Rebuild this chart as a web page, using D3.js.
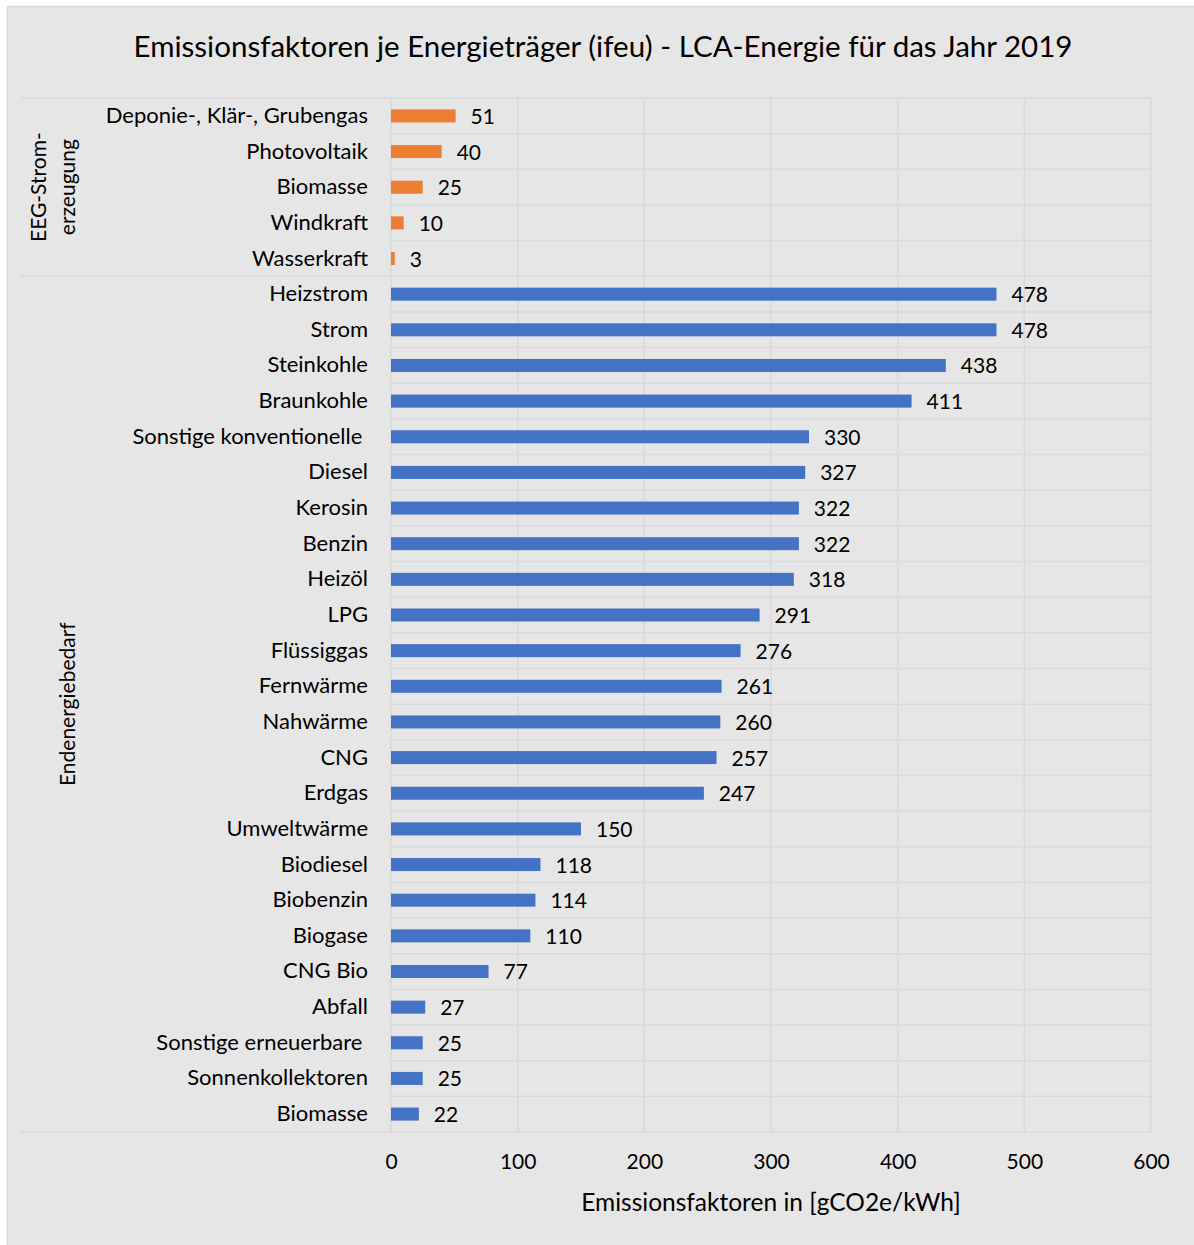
<!DOCTYPE html>
<html>
<head>
<meta charset="utf-8">
<script src="https://cdn.jsdelivr.net/npm/d3@7"></script>
<style>
    body { margin: 0; background: #fff; }
    text { font-family: Lato, "Open Sans", sans-serif; fill: #000; white-space: pre; }
</style>
</head>
<body>
<script>

    var groupNames = [["EEG-Strom-", "erzeugung"], ["Endenergiebedarf"]];
    var eegLabels = ["Deponie-, Klär-, Grubengas", "Photovoltaik", "Biomasse", "Windkraft", "Wasserkraft"];
    var eegValues = [51, 40, 25, 10, 3];
    var endLabels = ["Heizstrom", "Strom", "Steinkohle", "Braunkohle", "Sonstige konventionelle ",
        "Diesel", "Kerosin", "Benzin", "Heizöl", "LPG", "Flüssiggas", "Fernwärme", "Nahwärme",
        "CNG", "Erdgas", "Umweltwärme", "Biodiesel", "Biobenzin", "Biogase", "CNG Bio", "Abfall",
        "Sonstige erneuerbare ", "Sonnenkollektoren", "Biomasse"];
    var endValues = [478, 478, 438, 411, 330, 327, 322, 322, 318, 291, 276, 261, 260,
        257, 247, 150, 118, 114, 110, 77, 27, 25, 25, 22];
    var xTicks = [0, 100, 200, 300, 400, 500, 600];

    var width = 1194, height = 1245;
    var gridColor = "#d9d9d9";

    var rows = [];
    eegLabels.forEach(function (l, i) { rows.push({label: l, value: eegValues[i], group: 0}); });
    endLabels.forEach(function (l, i) { rows.push({label: l, value: endValues[i], group: 1}); });
    rows.forEach(function (d, i) { d.id = i; });

    var svg = d3.select("body").append("svg")
        .attr("width", width)
        .attr("height", height);

    svg.append("rect")
        .attr("x", 7.5).attr("y", 6.5)
        .attr("width", width).attr("height", height)
        .attr("fill", "#e7e6e6")
        .attr("stroke", gridColor)
        .attr("stroke-width", 1.5);

    var plotTop = 98, plotBottom = 1132;
    var x = d3.scaleLinear().domain([0, 600]).range([391, 1151]);
    var y = d3.scaleBand().domain(rows.map(function (d) { return d.id; }))
        .range([plotTop, plotBottom]).paddingInner(0.635).paddingOuter(0.32);
    var step = (plotBottom - plotTop) / rows.length;

    function rowTop(i) { return plotTop + i * step; }

    // title
    svg.append("text")
        .attr("x", 603).attr("y", 57)
        .attr("text-anchor", "middle")
        .style("font-size", "29.5px")
        .text("Emissionsfaktoren je Energieträger (ifeu) - LCA-Energie für das Jahr 2019");

    // vertical grid
    svg.append("g").selectAll("line")
        .data(xTicks)
        .enter().append("line")
        .attr("x1", function (d) { return x(d); })
        .attr("x2", function (d) { return x(d); })
        .attr("y1", plotTop).attr("y2", plotBottom)
        .attr("stroke", gridColor).attr("stroke-width", 1.5);

    // row boundaries
    svg.append("g").selectAll("line")
        .data(d3.range(rows.length + 1))
        .enter().append("line")
        .attr("x1", function (i) { return (i === 0 || i === eegLabels.length || i === rows.length) ? 21 : x(0); })
        .attr("x2", x(600))
        .attr("y1", function (i) { return rowTop(i); })
        .attr("y2", function (i) { return rowTop(i); })
        .attr("stroke", gridColor).attr("stroke-width", 1.5);

    // bars
    svg.append("g").selectAll("rect")
        .data(rows)
        .enter().append("rect")
        .attr("x", x(0))
        .attr("y", function (d) { return y(d.id); })
        .attr("width", function (d) { return x(d.value) - x(0); })
        .attr("height", y.bandwidth())
        .attr("fill", function (d) { return d.group === 0 ? "#ed7d31" : "#4472c4"; });

    // value labels
    svg.append("g").selectAll("text")
        .data(rows)
        .enter().append("text")
        .attr("x", function (d) { return x(d.value) + 15; })
        .attr("y", function (d) { return y(d.id) + y.bandwidth() / 2 + 8; })
        .style("font-size", "21px")
        .text(function (d) { return d.value; });

    // category labels
    svg.append("g").selectAll("text")
        .data(rows)
        .enter().append("text")
        .attr("x", 368)
        .attr("y", function (d) { return y(d.id) + y.bandwidth() / 2 + 7; })
        .attr("text-anchor", "end")
        .style("font-size", "22px")
        .text(function (d) { return d.label; });

    // group labels
    var groupMid = [(rowTop(0) + rowTop(eegLabels.length)) / 2, (rowTop(eegLabels.length) + rowTop(rows.length)) / 2];
    svg.append("text")
        .attr("transform", "translate(46," + groupMid[0] + ") rotate(-90)")
        .attr("text-anchor", "middle")
        .style("font-size", "21px")
        .text(groupNames[0][0]);
    svg.append("text")
        .attr("transform", "translate(75," + groupMid[0] + ") rotate(-90)")
        .attr("text-anchor", "middle")
        .style("font-size", "21px")
        .text(groupNames[0][1]);
    svg.append("text")
        .attr("transform", "translate(75," + groupMid[1] + ") rotate(-90)")
        .attr("text-anchor", "middle")
        .style("font-size", "21px")
        .text(groupNames[1][0]);

    // x axis
    var axis = svg.append("g")
        .attr("transform", "translate(0," + plotBottom + ")")
        .call(d3.axisBottom(x).tickValues(xTicks).tickSize(0).tickPadding(22));
    axis.select(".domain").remove();
    axis.selectAll("text")
        .style("font-size", "21px")
        .style("font-family", "Lato, 'Open Sans', sans-serif")
        .attr("fill", "#000");

    svg.append("text")
        .attr("x", 771).attr("y", 1211)
        .attr("text-anchor", "middle")
        .style("font-size", "24.5px")
        .text("Emissionsfaktoren in [gCO2e/kWh]");

</script>
</body>
</html>
